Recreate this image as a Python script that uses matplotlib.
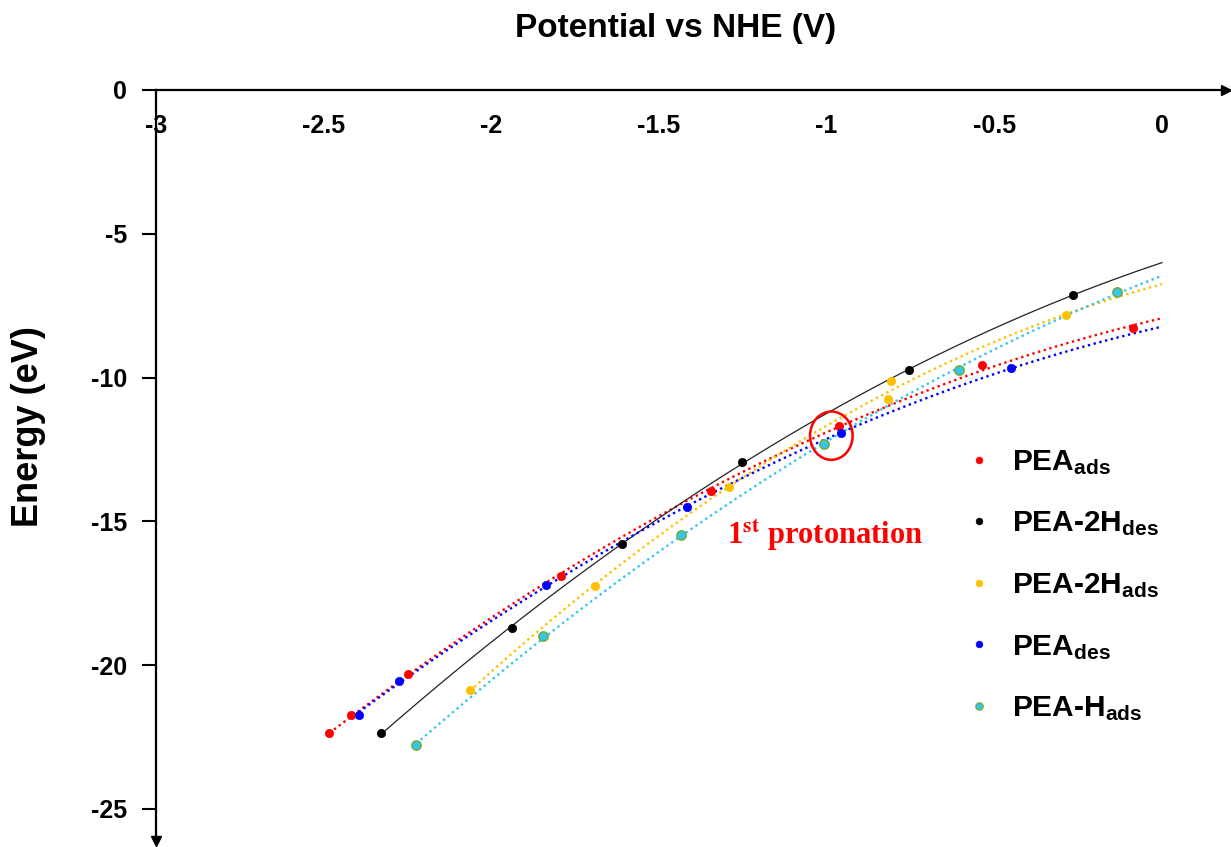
import numpy as np
import matplotlib
matplotlib.use("Agg")
import matplotlib.pyplot as plt
from matplotlib.patches import Ellipse
from matplotlib.lines import Line2D

plt.rcParams['font.family'] = ['Liberation Sans', 'DejaVu Sans']
plt.rcParams['mathtext.fontset'] = 'custom'
plt.rcParams['mathtext.rm'] = 'Liberation Sans:bold'
plt.rcParams['mathtext.bf'] = 'Liberation Sans:bold'
plt.rcParams['mathtext.it'] = 'Liberation Sans:bold'
plt.rcParams['axes.unicode_minus'] = False

# ---- data (Potential vs NHE (V), Energy (eV)) ----
pea_ads_x = [-2.483, -2.417, -2.248, -1.792, -1.346, -0.963, -0.536, -0.086]
pea_ads_y = [-22.37, -21.74, -20.30, -16.89, -13.94, -11.68, -9.56, -8.29]

pea_2h_des_x = [-2.329, -1.939, -1.611, -1.253, -0.755, -0.266]
pea_2h_des_y = [-22.37, -18.70, -15.79, -12.95, -9.72, -7.14]

pea_2h_ads_x = [-2.064, -1.691, -1.291, -0.816, -0.808, -0.285]
pea_2h_ads_y = [-20.86, -17.25, -13.82, -10.74, -10.12, -7.82]

pea_des_x = [-2.395, -2.276, -1.838, -1.416, -0.956, -0.450]
pea_des_y = [-21.72, -20.55, -17.22, -14.50, -11.94, -9.66]

pea_h_ads_x = [-2.224, -1.846, -1.435, -1.009, -0.606, -0.135]
pea_h_ads_y = [-22.79, -19.00, -15.47, -12.30, -9.75, -7.03]

labels = [r'PEA$_{\mathbf{ads}}$', r'PEA-2H$_{\mathbf{des}}$', r'PEA-2H$_{\mathbf{ads}}$',
          r'PEA$_{\mathbf{des}}$', r'PEA-H$_{\mathbf{ads}}$']
x_ticks = [-3, -2.5, -2, -1.5, -1, -0.5, 0]
x_tick_labels = ['-3', '-2.5', '-2', '-1.5', '-1', '-0.5', '0']
y_ticks = [-25, -20, -15, -10, -5, 0]
y_tick_labels = ['-25', '-20', '-15', '-10', '-5', '0']

series = [
    (pea_ads_x, pea_ads_y, '#FF0000', '#FF0000', ':'),
    (pea_2h_des_x, pea_2h_des_y, '#000000', '#000000', '-'),
    (pea_2h_ads_x, pea_2h_ads_y, '#FFC000', '#FFC000', ':'),
    (pea_des_x, pea_des_y, '#0000FF', '#0000FF', ':'),
    (pea_h_ads_x, pea_h_ads_y, '#33C7EE', '#70AD47', ':'),
]

W, H = 1231, 847
fig = plt.figure(figsize=(W / 100, H / 100), dpi=100)
xl, xr = -3, 0.19
yb, yt = -26.1, 0
ax = fig.add_axes([156 / W, 0.00756, (1225.7 - 156) / W, 0.8862])
ax.set_xlim(xl, xr)
ax.set_ylim(yb, yt)

# trend lines (2nd order polynomial fits, Excel-style) extended to 0 V
for xs, ys, c, ec, ls in series:
    coef = np.polyfit(xs, ys, 2)
    xx = np.linspace(min(xs), 0, 300)
    if ls == '-':
        ax.plot(xx, np.polyval(coef, xx), color='#222222', lw=0.9, zorder=2)
    else:
        ax.plot(xx, np.polyval(coef, xx), color=c, lw=1.7, ls=(0, (1, 1.5)), zorder=2)

handles = []
for (xs, ys, c, ec, ls), lab in zip(series, labels):
    big = ec != c
    ax.plot(xs, ys, 'o', color=c, mec=ec, mew=1.2 if big else 0.5,
            ms=6.6 if big else 6.0, zorder=3, ls='none')
    handles.append(Line2D([], [], marker='o', ls='none', color=c, mec=ec,
                          mew=1.0 if big else 0.5, ms=5.2 if big else 4.8, label=lab))

# spines / axes
for s in ['top', 'right']:
    ax.spines[s].set_visible(False)
ax.spines['bottom'].set_position(('data', 0))
ax.spines['left'].set_position(('data', -3))
for s in ['bottom', 'left']:
    ax.spines[s].set_linewidth(1.6)
ax.plot(1, 1, '>', color='k', ms=7, transform=ax.transAxes, clip_on=False)
ax.plot(0, 0, 'v', color='k', ms=7, transform=ax.transAxes, clip_on=False)

ax.set_xticks(x_ticks)
ax.set_xticklabels(x_tick_labels, fontsize=18, fontweight='bold')
ax.set_yticks(y_ticks)
ax.set_yticklabels(y_tick_labels, fontsize=18, fontweight='bold')
ax.tick_params(axis='x', length=0, pad=17)
ax.tick_params(axis='y', direction='out', length=10, width=1.5, pad=11)

fig.text(676 / W, 1 - 29 / H, 'Potential vs NHE (V)', fontsize=24, fontweight='bold',
         ha='center', va='center')
fig.text(29 / W, 1 - 427 / H, 'Energy (eV)', fontsize=26, fontweight='bold',
         ha='center', va='center', rotation=90)

# annotation
ax.add_patch(Ellipse((-0.986, -12.02), 0.127, 1.68, fill=False, ec='#FF0000', lw=1.8, zorder=4))
fig.text(727 / W, 1 - 544 / H, r'1$^{\mathbf{st}}$ protonation', color='#FF0000',
         fontsize=22, fontweight='bold', family='Liberation Serif', math_fontfamily='stix',
         ha='left', va='baseline')

leg = ax.legend(handles=handles, loc='upper left', bbox_to_anchor=(964 / W, 1 - 448 / H),
                bbox_transform=fig.transFigure, frameon=False,
                prop={'weight': 'bold', 'size': 21.5}, handlelength=1.0, handletextpad=0.6,
                labelspacing=1.1, borderpad=0, borderaxespad=0)

fig.savefig('out.png', dpi=100)
